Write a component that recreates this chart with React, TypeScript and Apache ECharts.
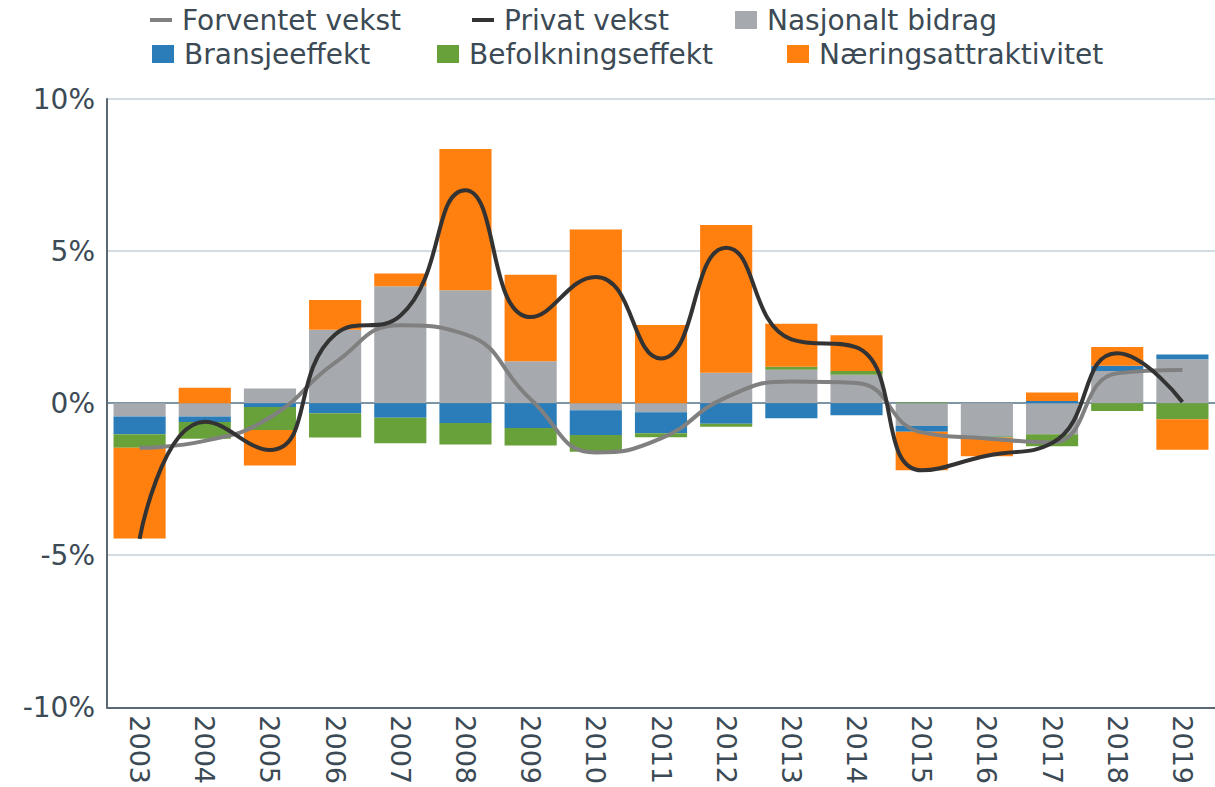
import React, { useEffect, useRef } from "react";
import * as echarts from "echarts";

const years = ["2003","2004","2005","2006","2007","2008","2009","2010","2011","2012","2013","2014","2015","2016","2017","2018","2019"];
const nasjonalt = [-0.44, -0.44, 0.48, 2.41, 3.84, 3.71, 1.38, -0.23, -0.30, 1.00, 1.10, 0.93, -0.75, -1.08, -1.02, 1.06, 1.44];
const bransje = [-0.58, -0.18, -0.13, -0.33, -0.48, -0.65, -0.82, -0.82, -0.69, -0.68, -0.50, -0.40, -0.19, -0.02, 0.07, 0.17, 0.16];
const befolkning = [-0.45, -0.55, -0.75, -0.80, -0.84, -0.71, -0.57, -0.55, -0.13, -0.10, 0.10, 0.13, 0.02, -0.03, -0.40, -0.26, -0.53];
const naering = [-2.98, 0.51, -1.17, 0.98, 0.42, 4.65, 2.84, 5.71, 2.57, 4.86, 1.41, 1.17, -1.27, -0.62, 0.28, 0.62, -1.00];
const privat = [-4.46, -0.61, -1.54, 2.26, 2.87, 7.0, 2.83, 4.15, 1.47, 5.11, 2.1, 1.83, -2.21, -1.73, -1.31, 1.64, 0.04];
const forventet = [-1.47, -1.24, -0.47, 1.33, 2.56, 2.26, 0.13, -1.62, -1.16, 0.19, 0.71, 0.66, -0.96, -1.16, -1.29, 0.98, 1.09];

const FONT = "DejaVu Sans";
const TXT = "#3b4a54";

export default function App() {
  const ref = useRef<HTMLDivElement>(null);
  useEffect(() => {
    if (!ref.current) return;
    const chart = echarts.init(ref.current, null, { renderer: "svg" });
    const legendText = { fontFamily: FONT, fontSize: 28, color: TXT, lineHeight: 28, padding: [0, 0, 0, 5] };
    const mkLegend = (name: string, left: number, top: number, line: boolean) => ({
      data: [name],
      left,
      top,
      orient: "horizontal",
      icon: "rect",
      itemWidth: 22,
      itemHeight: line ? 4 : 18,
      padding: 0,
      textStyle: legendText,
      selectedMode: false,
    });
    const barSeries = (name: string, data: number[], color: string) => ({
      name,
      type: "bar",
      stack: "total",
      data,
      barCategoryGap: "20%",
      itemStyle: { color },
      z: 2,
    });
    chart.setOption({
      animation: false,
      backgroundColor: "#ffffff",
      textStyle: { fontFamily: FONT },
      legend: [
        mkLegend("Forventet vekst", 150, 6, true),
        mkLegend("Privat vekst", 472, 6, true),
        mkLegend("Nasjonalt bidrag", 735, 6, false),
        mkLegend("Bransjeeffekt", 152, 40, false),
        mkLegend("Befolkningseffekt", 437, 40, false),
        mkLegend("Næringsattraktivitet", 787, 40, false),
      ],
      grid: { left: 107, right: 0, top: 99, bottom: 78, containLabel: false },
      xAxis: {
        type: "category",
        data: years,
        axisLine: { onZero: false, lineStyle: { color: "#5c6973", width: 2 } },
        axisTick: { show: false },
        axisLabel: { rotate: -90, fontFamily: FONT, fontSize: 27, color: TXT, margin: 8 },
      },
      yAxis: {
        type: "value",
        min: -10,
        max: 10,
        interval: 5,
        axisLine: { show: true, lineStyle: { color: "#5c6973", width: 2 } },
        axisTick: { show: false },
        axisLabel: { formatter: "{value}%", fontFamily: FONT, fontSize: 28, color: TXT, margin: 12 },
        splitLine: { lineStyle: { color: ["#5c6973", "#d3dce2", "#7e95a4", "#d3dce2", "#d3dce2"], width: 2 } },
      },
      series: [
        barSeries("Nasjonalt bidrag", nasjonalt, "#a6aaae"),
        barSeries("Bransjeeffekt", bransje, "#2a7db8"),
        barSeries("Befolkningseffekt", befolkning, "#68a03a"),
        barSeries("Næringsattraktivitet", naering, "#ff7f0f"),
        {
          name: "Forventet vekst",
          type: "line",
          data: forventet,
          smooth: 0.5,
          symbol: "none",
          lineStyle: { color: "#808080", width: 4 },
          itemStyle: { color: "#808080" },
          z: 5,
        },
        {
          name: "Privat vekst",
          type: "line",
          data: privat,
          smooth: 0.5,
          symbol: "none",
          lineStyle: { color: "#333333", width: 4 },
          itemStyle: { color: "#333333" },
          z: 6,
        },
      ],
    });
    return () => chart.dispose();
  }, []);
  return (
    <div
      ref={ref}
      style={{ position: "fixed", left: 0, top: 0, width: 1215, height: 787, background: "#fff" }}
    />
  );
}
